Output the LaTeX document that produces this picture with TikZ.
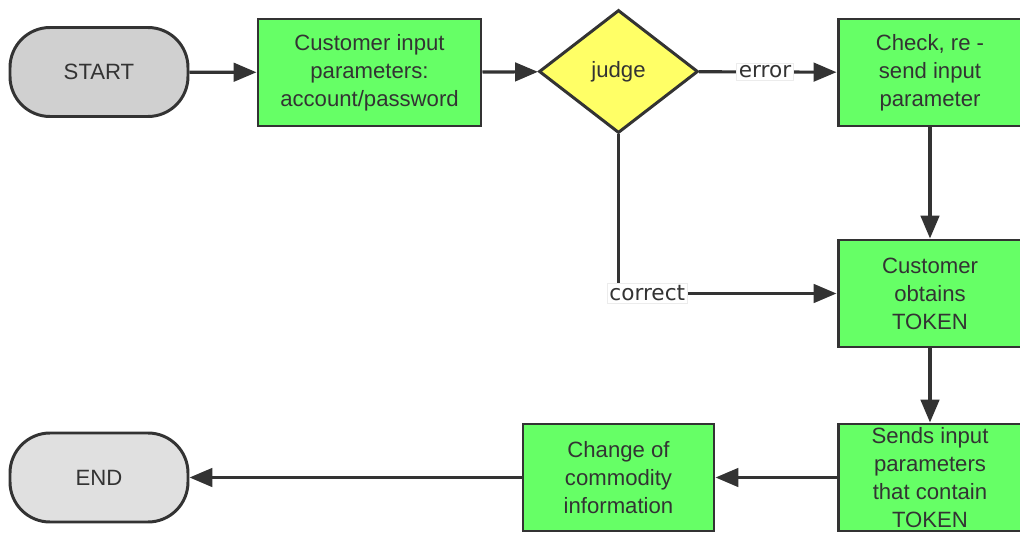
\documentclass[tikz,border=0pt]{standalone}
\usepackage{fontspec}
\setmainfont{Liberation Sans}
\newfontfamily\labelfont{DejaVu Sans}
\usetikzlibrary{shapes.geometric,arrows.meta}
\definecolor{linegray}{HTML}{333333}
\definecolor{boxgreen}{HTML}{66FF66}
\definecolor{judgeyellow}{HTML}{FFFF66}
\definecolor{startgray}{HTML}{D0D0D0}
\definecolor{endgray}{HTML}{E0E0E0}

\begin{document}
\begin{tikzpicture}[
    every node/.style={text=linegray, font=\fontsize{12.6}{15.9}\selectfont, align=center},
    terminal/.style={draw=linegray, line width=1.7pt, rounded corners=0.8cm, minimum width=3.56cm, minimum height=1.78cm},
    process/.style={draw=linegray, line width=1.7pt, fill=boxgreen, minimum height=2.14cm, inner sep=0pt},
    decision/.style={diamond, draw=linegray, line width=1.7pt, fill=judgeyellow, minimum width=3.18cm, minimum height=2.46cm, inner sep=0pt},
    flow/.style={draw=linegray, line width=1.8pt, -{Triangle[length=13pt,width=10.5pt]}},
    branch/.style={fill=white, draw=gray!15, line width=0.4pt, inner sep=1.2pt, font=\labelfont\fontsize{12.3}{14}\selectfont}
]
    \clip (0,0) rectangle (20.4,10.64);

    % Top row
    \node[terminal, fill=startgray] (start) at (1.98,9.20) {START};
    \node[process, minimum width=4.46cm] (login) at (7.39,9.19) {Customer input\\parameters:\\account/password};
    \node[decision] (judge) at (12.37,9.21) {judge};
    \node[process, minimum width=3.68cm] (check) at (18.60,9.19) {Check, re -\\send input\\parameter};

    % Right column
    \node[process, minimum width=3.68cm] (token) at (18.60,4.77) {Customer\\obtains\\TOKEN};
    \node[process, minimum width=3.68cm] (send) at (18.60,1.09) {Sends input\\parameters\\that contain\\TOKEN};

    % Bottom row
    \node[process, minimum width=3.82cm] (change) at (12.37,1.09) {Change of\\commodity\\information};
    \node[terminal, fill=endgray] (end) at (1.98,1.09) {END};

    % Connectors
    \draw[flow] (start) -- (login);
    \draw[flow] (login) -- (judge);
    \draw[flow] (judge) -- (check) node[branch, pos=0.48] {error};
    \draw[flow] (check) -- (token);
    \draw[flow] (judge.south) |- (token.west) node[branch, pos=0.566] {correct};
    \draw[flow] (token) -- (send);
    \draw[flow] (send) -- (change);
    \draw[flow] (change) -- (end);
\end{tikzpicture}
\end{document}
